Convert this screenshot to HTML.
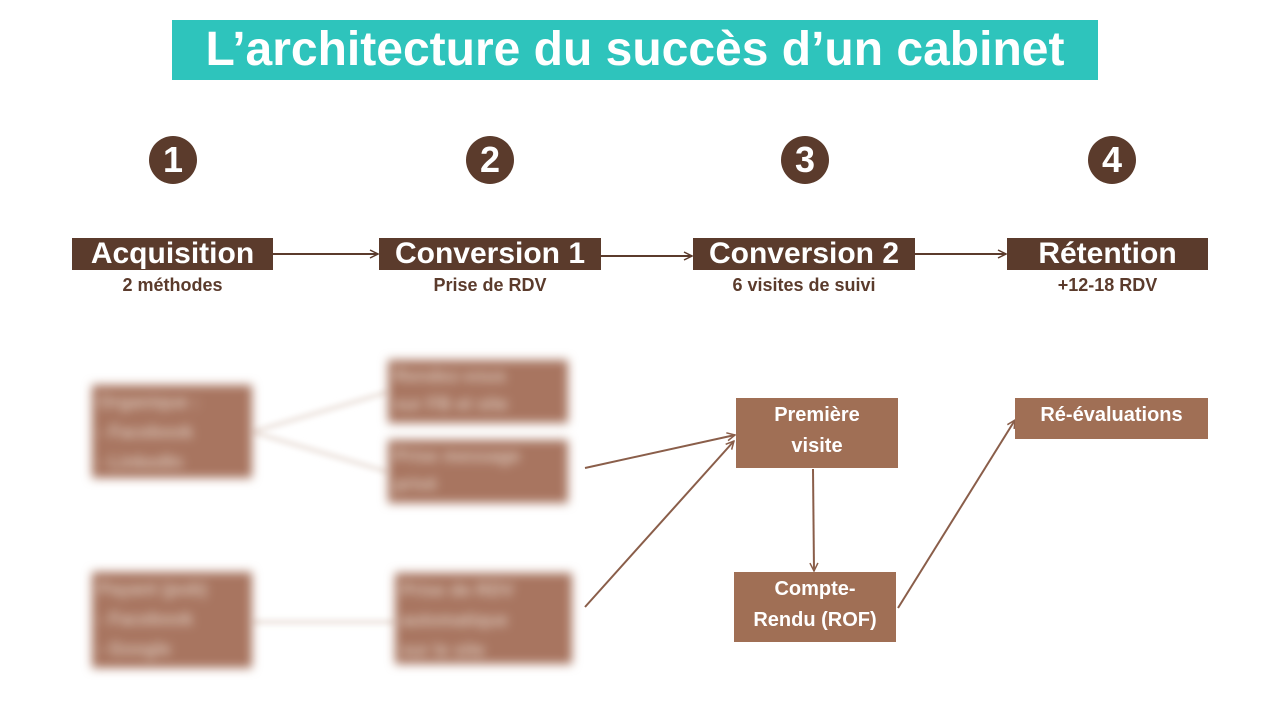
<!DOCTYPE html>
<html><head><meta charset="utf-8"><style>
body{margin:0;width:1280px;height:720px;background:#fff;position:relative;overflow:hidden;font-family:"Liberation Sans",sans-serif;}
.a{position:absolute;}
.title{left:172px;top:20px;width:926px;height:60px;background:#2ec4bc;color:#fff;font-weight:bold;font-size:48px;text-align:center;line-height:60px;white-space:nowrap;}
.c{width:48px;height:48px;border-radius:50%;background:#5b3b2c;color:#fff;font-weight:bold;font-size:36px;text-align:center;line-height:48px;}
.h{background:#5b3b2c;color:#fff;font-weight:bold;font-size:30px;text-align:center;height:32px;line-height:32px;white-space:nowrap;}
.s{color:#5b3b2c;font-weight:bold;font-size:18px;text-align:center;}
.b{background:#a06f55;color:#fff;font-weight:bold;font-size:20px;text-align:center;line-height:31px;}
.bl{background:#a87560;filter:blur(5px);color:#d9c3b6;font-weight:bold;font-size:18px;line-height:30px;padding:2px 6px;box-sizing:border-box;}
</style></head><body>
<div class="a title">L’architecture du succès d’un cabinet</div>
<div class="a c" style="left:149px;top:136px">1</div>
<div class="a c" style="left:466px;top:136px">2</div>
<div class="a c" style="left:781px;top:136px">3</div>
<div class="a c" style="left:1088px;top:136px">4</div>
<div class="a h" style="left:72px;top:238px;width:201px">Acquisition</div>
<div class="a h" style="left:379px;top:238px;width:222px">Conversion 1</div>
<div class="a h" style="left:693px;top:238px;width:222px">Conversion 2</div>
<div class="a h" style="left:1007px;top:238px;width:201px">Rétention</div>
<div class="a s" style="left:72px;top:275px;width:201px">2 méthodes</div>
<div class="a s" style="left:379px;top:275px;width:222px">Prise de RDV</div>
<div class="a s" style="left:693px;top:275px;width:222px">6 visites de suivi</div>
<div class="a s" style="left:1007px;top:275px;width:201px">+12-18 RDV</div>
<svg class="a" style="left:0;top:0" width="1280" height="720">
<defs><marker id="m" markerWidth="10" markerHeight="10" refX="9" refY="5" orient="auto" markerUnits="userSpaceOnUse"><path d="M1,1 L9,5 L1,9" fill="none" stroke="#8a5e4a" stroke-width="1.5"/></marker>
<marker id="k" markerWidth="10" markerHeight="10" refX="9" refY="5" orient="auto" markerUnits="userSpaceOnUse"><path d="M1,1 L9,5 L1,9" fill="none" stroke="#5b3b2c" stroke-width="1.5"/></marker>
<filter id="f"><feGaussianBlur stdDeviation="3"/></filter></defs>
<g stroke="#5b3b2c" stroke-width="2" marker-end="url(#k)">
<line x1="273" y1="254" x2="378" y2="254"/><line x1="601" y1="256" x2="692" y2="256"/><line x1="915" y1="254" x2="1006" y2="254"/></g>
<g stroke="#eee5e0" stroke-width="5" filter="url(#f)">
<line x1="252" y1="432" x2="388" y2="392"/><line x1="252" y1="432" x2="388" y2="472"/><line x1="252" y1="622" x2="395" y2="622"/></g>
<g stroke="#8a5e4a" stroke-width="2" marker-end="url(#m)" fill="none">
<line x1="585" y1="468" x2="735" y2="435"/><line x1="585" y1="607" x2="734" y2="441"/>
<line x1="813" y1="469" x2="814" y2="571"/><line x1="898" y1="608" x2="1015" y2="420"/></g>
</svg>
<div class="a bl" style="left:92px;top:385px;width:160px;height:93px">Organique :<br>- Facebook<br>- LinkedIn</div>
<div class="a bl" style="left:92px;top:572px;width:160px;height:96px">Payant (pub)<br>- Facebook<br>- Google</div>
<div class="a bl" style="left:388px;top:360px;width:180px;height:63px;line-height:28px">Rendez-vous<br>sur FB et site</div>
<div class="a bl" style="left:388px;top:440px;width:180px;height:63px;line-height:28px">Prise message<br>privé</div>
<div class="a bl" style="left:395px;top:573px;width:177px;height:91px">Prise de RDV<br>automatique<br>sur le site</div>
<div class="a b" style="left:736px;top:398px;width:162px;height:70px;padding-top:2px;box-sizing:border-box">Première<br>visite</div>
<div class="a b" style="left:734px;top:572px;width:162px;height:70px;padding-top:2px;box-sizing:border-box">Compte-<br>Rendu (ROF)</div>
<div class="a b" style="left:1015px;top:398px;width:193px;height:41px;line-height:34px">Ré-évaluations</div>
</body></html>
